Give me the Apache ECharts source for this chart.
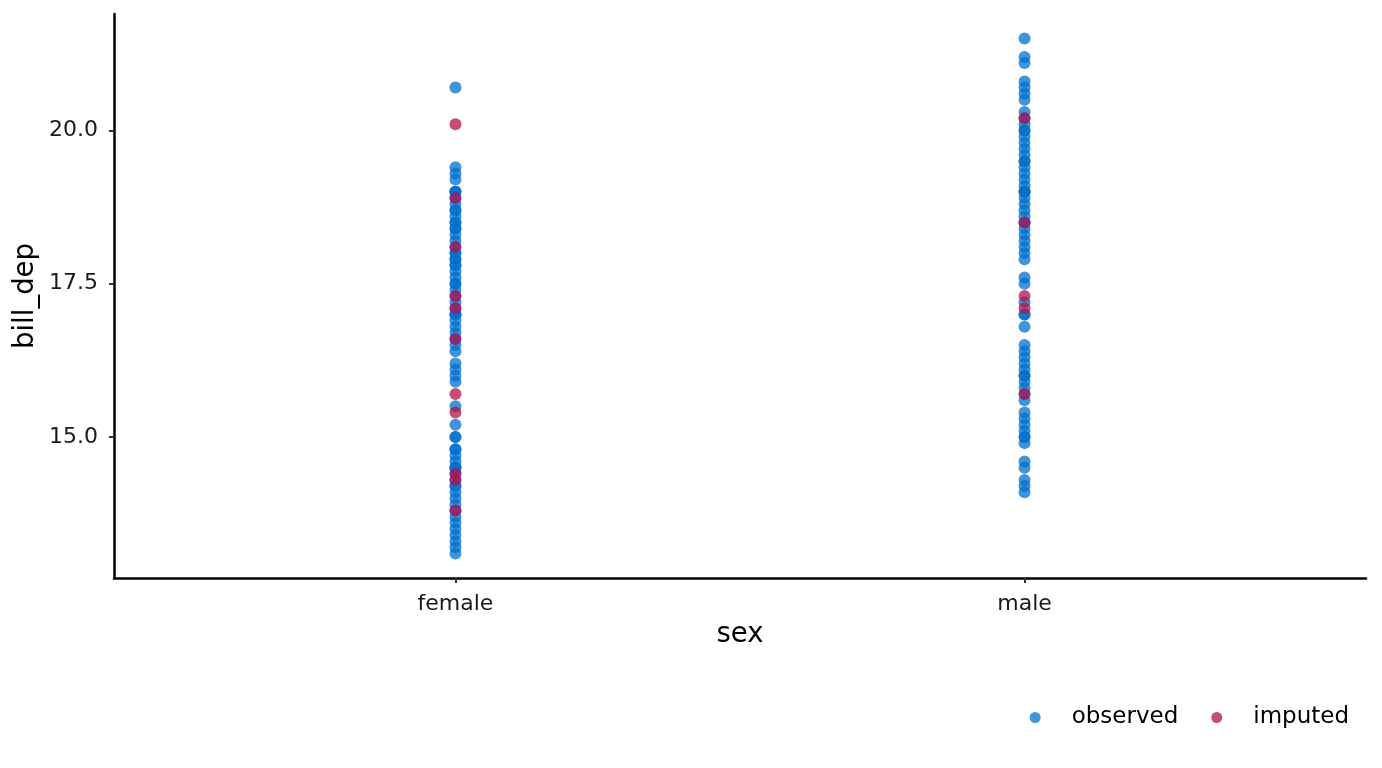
<!DOCTYPE html>
<html>
<head>
<meta charset="utf-8">
<script src="https://cdn.jsdelivr.net/npm/echarts@6/dist/echarts.min.js"></script>
<style>
  html, body { margin: 0; padding: 0; background: #fff; }
  #main { width: 1382px; height: 768px; }
</style>
</head>
<body>
<div id="main"></div>
<script>
// 类别（x轴）
var categories = ['female', 'male'];
// y轴刻度
var yTicks = [15, 17.5, 20];

// bill_dep 观测值（重复值表示多只企鹅取同一值）
var femaleObserved = [20.7, 19.4, 19.3, 19.2, 19.0, 19.0, 19.0, 18.9, 18.8, 18.7, 18.7, 18.6,
  18.5, 18.5, 18.4, 18.4, 18.3, 18.2, 18.1, 18.0, 18.0, 17.9, 17.9, 17.8, 17.8, 17.7, 17.6,
  17.5, 17.5, 17.4, 17.3, 17.2, 17.1, 17.0, 17.0, 17.0, 16.9, 16.8, 16.7, 16.6, 16.5, 16.4,
  16.2, 16.1, 16.0, 15.9, 15.5, 15.2, 15.0, 15.0, 14.8, 14.8, 14.7, 14.6, 14.5, 14.5, 14.5,
  14.4, 14.3, 14.2, 14.2, 14.1, 14.0, 13.9, 13.8, 13.7, 13.6, 13.5, 13.4, 13.3, 13.2, 13.1];
var maleObserved = [21.5, 21.2, 21.1, 20.8, 20.7, 20.6, 20.5, 20.3, 20.2, 20.1, 20.0, 20.0,
  19.9, 19.8, 19.7, 19.6, 19.5, 19.5, 19.4, 19.3, 19.2, 19.1, 19.0, 19.0, 19.0, 18.9, 18.8,
  18.7, 18.6, 18.5, 18.5, 18.4, 18.3, 18.2, 18.1, 18.0, 17.9, 17.6, 17.5, 17.2, 17.0, 17.0,
  16.8, 16.5, 16.4, 16.3, 16.2, 16.1, 16.0, 16.0, 15.9, 15.8, 15.7, 15.6, 15.4, 15.3, 15.2,
  15.1, 15.0, 15.0, 14.9, 14.6, 14.5, 14.3, 14.2, 14.1];
// 插补值
var femaleImputed = [20.1, 18.9, 18.1, 17.3, 17.1, 16.6, 15.7, 15.4, 14.4, 14.3, 13.8];
var maleImputed = [20.2, 18.5, 17.3, 17.1, 15.7];

// 转换成散点 [x, y]，x = 类别序号 + 1
function toPoints(catIndex, values) {
  var pts = [];
  for (var i = 0; i < values.length; i++) {
    pts.push([catIndex + 1, values[i]]);
  }
  return pts;
}

var observedData = toPoints(0, femaleObserved).concat(toPoints(1, maleObserved));
var imputedData = toPoints(0, femaleImputed).concat(toPoints(1, maleImputed));

var font = 'DejaVu Sans';
var myChart = echarts.init(document.getElementById('main'));
myChart.setOption({
  animation: false,
  textStyle: { fontFamily: font },
  grid: { left: 114, right: 16, top: 14, bottom: 190 },
  legend: {
    data: ['observed', 'imputed'],
    right: 28,
    top: 701,
    icon: 'circle',
    itemWidth: 11,
    itemHeight: 11,
    itemGap: 33,
    textStyle: { fontFamily: font, fontSize: 23, color: '#000', padding: [0, 0, 0, 26] }
  },
  xAxis: {
    type: 'value',
    min: 0.4,
    max: 2.6,
    name: 'sex',
    nameLocation: 'middle',
    nameGap: 43,
    nameMoveOverlap: false,
    nameTextStyle: { fontFamily: font, fontSize: 27.5, color: '#000' },
    splitLine: { show: false },
    axisLine: { show: true, onZero: false, lineStyle: { color: '#000', width: 2.5 } },
    axisTick: { show: true, length: 5, lineStyle: { color: '#333', width: 2 }, customValues: [1, 2] },
    axisLabel: {
      customValues: [1, 2],
      margin: 15,
      fontSize: 22,
      color: '#1a1a1a',
      formatter: function (v) { return categories[Math.round(v) - 1] || ''; }
    }
  },
  yAxis: {
    type: 'value',
    min: 12.7,
    max: 21.9,
    name: 'bill_dep',
    nameLocation: 'middle',
    nameGap: 74,
    nameMoveOverlap: false,
    nameTextStyle: { fontFamily: font, fontSize: 27.5, color: '#000' },
    splitLine: { show: false },
    axisLine: { show: true, onZero: false, lineStyle: { color: '#000', width: 2.5 } },
    axisTick: { show: true, length: 5, lineStyle: { color: '#333', width: 2 }, customValues: yTicks },
    axisLabel: {
      customValues: yTicks,
      margin: 16,
      fontSize: 22,
      color: '#1a1a1a',
      formatter: function (v) { return v.toFixed(1); }
    }
  },
  series: [{
    name: 'observed',
    type: 'scatter',
    symbolSize: 12,
    data: observedData,
    itemStyle: { color: '#0070CC', opacity: 0.75 }
  }, {
    name: 'imputed',
    type: 'scatter',
    symbolSize: 12,
    data: imputedData,
    itemStyle: { color: '#B0124E', opacity: 0.75 }
  }]
});
</script>
</body>
</html>
